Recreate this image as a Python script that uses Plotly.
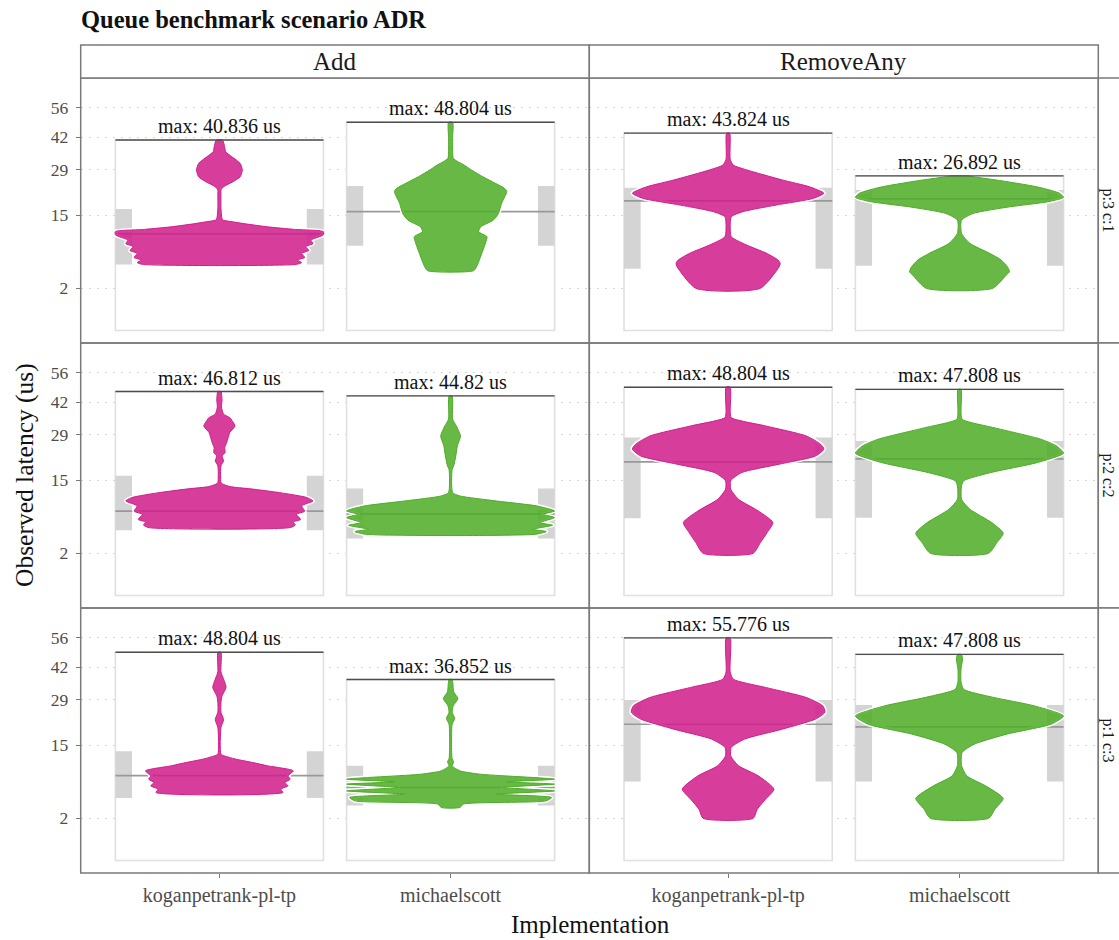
import numpy as np
import plotly.graph_objects as go

W, H = 1119, 940

operations = ["Add", "RemoveAny"]
configs = ["p:3 c:1", "p:2 c:2", "p:1 c:3"]
implementations = ["koganpetrank-pl-tp", "michaelscott"]
tick_us = [2, 15, 29, 42, 56]

# panel order: config row -> operation -> implementation
max_us = [40.836, 48.804, 43.824, 26.892,
          46.812, 44.82, 48.804, 47.808,
          48.804, 36.852, 55.776, 47.808]
q1_us = [4.9, 8.1, 4.3, 4.7, 4.8, 3.65, 6.7, 6.8, 4.4, 3.4, 7.0, 7.0]
median_us = [10.5, 15.9, 18.9, 19.5, 8.0, 7.5, 20.1, 21.0, 8.1, 6.0, 20.9, 20.1]
q3_us = [16.6, 23.5, 22.9, 22.2, 16.1, 12.9, 28.1, 26.9, 13.4, 10.1, 29.0, 27.2]

# violin outlines: latency (us) and relative half width (1 = full slot)
p3_add_kp_lat = [4.92, 5.2, 5.6, 6.0, 6.7, 7.2, 7.9, 8.5, 9.2, 9.8, 10.3, 11.0, 11.5, 12.1, 12.8,
                 13.4, 13.8, 17.0, 21.0, 22.2, 23.25, 24.9, 26.6, 29.0, 31.4, 33.97, 35.96, 38.0, 40.836]
p3_add_kp_w = [0.74, 0.79, 0.75, 0.82, 0.79, 0.86, 0.83, 0.90, 0.88, 0.95, 1.0, 1.0, 0.72, 0.46, 0.25,
               0.10, 0.03, 0.015, 0.015, 0.015, 0.04, 0.13, 0.20, 0.22, 0.20, 0.12, 0.06, 0.05, 0.03]

p3_add_ms_lat = [4.01, 4.57, 5.31, 6.69, 8.86, 9.9, 10.97, 12.1, 13.7, 15.4, 18.2, 20.1, 21.7, 22.7,
                 24.4, 26.6, 29.0, 30.8, 32.05, 33.4, 36.0, 42.0, 48.804]
p3_add_ms_w = [0.22, 0.25, 0.27, 0.30, 0.34, 0.35, 0.27, 0.29, 0.41, 0.46, 0.49, 0.52, 0.54, 0.52,
               0.43, 0.31, 0.20, 0.13, 0.07, 0.025, 0.02, 0.02, 0.02]

p3_rem_kp_lat = [2.0, 4.57, 5.07, 5.58, 6.7, 8.2, 9.9, 12.1, 14.55, 15.87, 17.7, 19.65, 21.2, 23.25,
                 25.5, 29.0, 30.8, 33.0, 43.824]
p3_rem_kp_w = [0.31, 0.49, 0.50, 0.48, 0.37, 0.18, 0.03, 0.02, 0.03, 0.14, 0.46, 0.82, 0.92, 0.78,
               0.52, 0.18, 0.05, 0.02, 0.015]

p3_rem_ms_lat = [2.0, 3.46, 3.88, 4.57, 5.6, 6.7, 8.54, 10.6, 13.7, 15.4, 17.2, 18.7, 19.95, 21.2,
                 23.25, 25.5, 26.6, 26.892]
p3_rem_ms_w = [0.32, 0.45, 0.48, 0.46, 0.40, 0.29, 0.10, 0.02, 0.02, 0.13, 0.48, 0.86, 1.0, 0.96,
               0.74, 0.35, 0.13, 0.10]

p2_add_kp_lat = [5.19, 5.6, 6.08, 6.5, 7.42, 8.0, 9.02, 10.05, 10.8, 11.9, 12.8, 13.35, 14.0, 14.4,
                 18.9, 20.4, 21.9, 23.0, 24.5, 26.3, 29.9, 32.35, 34.5, 35.6, 37.0, 40.0, 43.0, 46.812]
p2_add_kp_w = [0.68, 0.73, 0.71, 0.78, 0.74, 0.82, 0.79, 0.90, 0.84, 0.58, 0.30, 0.10, 0.03, 0.015,
               0.015, 0.04, 0.025, 0.055, 0.05, 0.07, 0.10, 0.15, 0.12, 0.10, 0.04, 0.02, 0.025, 0.015]

p2_add_ms_lat = [4.22, 4.6, 4.93, 5.55, 5.98, 6.83, 7.42, 8.04, 9.02, 10.05, 11.15, 11.9, 17.9, 18.9,
                 21.9, 25.2, 28.65, 32.35, 35.0, 44.82]
p2_add_ms_w = [0.82, 0.92, 0.79, 0.98, 0.86, 1.0, 0.89, 1.0, 0.83, 0.44, 0.09, 0.02, 0.015, 0.03,
               0.05, 0.065, 0.095, 0.055, 0.02, 0.015]

p2_rem_kp_lat = [2.0, 3.15, 4.46, 5.98, 8.04, 10.4, 12.7, 14.8, 17.0, 19.4, 21.9, 24.1, 25.7, 28.65,
                 32.35, 35.6, 38.0, 48.804]
p2_rem_kp_w = [0.24, 0.31, 0.375, 0.43, 0.29, 0.10, 0.025, 0.025, 0.13, 0.49, 0.84, 0.92, 0.89, 0.75,
               0.36, 0.03, 0.02, 0.02]

p2_rem_ms_lat = [2.0, 3.15, 4.36, 5.98, 8.37, 10.4, 13.5, 14.8, 17.0, 19.9, 22.8, 25.2, 27.5, 31.7,
                 34.96, 38.0, 47.808]
p2_rem_ms_w = [0.28, 0.36, 0.42, 0.31, 0.10, 0.02, 0.02, 0.04, 0.30, 0.75, 1.0, 0.93, 0.78, 0.33,
               0.025, 0.015, 0.015]

p1_add_kp_lat = [5.2, 5.72, 6.27, 6.85, 7.44, 8.06, 9.04, 10.1, 10.8, 11.6, 12.3, 12.7, 19.9, 22.3,
                 24.7, 28.1, 30.5, 33.7, 37.0, 40.0, 48.804]
p1_add_kp_w = [0.61, 0.59, 0.66, 0.63, 0.68, 0.66, 0.71, 0.46, 0.32, 0.15, 0.05, 0.015, 0.015, 0.04,
               0.015, 0.015, 0.025, 0.064, 0.04, 0.015, 0.015]

p1_add_ms_lat = [3.16, 3.57, 4.0, 4.47, 4.95, 5.45, 6.0, 6.56, 6.96, 7.44, 8.39, 9.04, 10.1, 10.95,
                 11.6, 20.9, 22.7, 24.7, 26.9, 29.5, 32.0, 36.852]
p1_add_ms_w = [0.09, 0.12, 0.92, 0.97, 0.44, 1.0, 0.50, 1.0, 0.54, 1.0, 0.28, 0.09, 0.015, 0.03,
               0.015, 0.015, 0.04, 0.015, 0.025, 0.07, 0.03, 0.015]

p1_rem_kp_lat = [2.0, 2.96, 4.23, 5.72, 8.06, 10.1, 12.3, 14.4, 16.6, 19.4, 22.5, 24.7, 26.9, 29.9,
                 33.7, 37.0, 40.0, 55.776]
p1_rem_kp_w = [0.24, 0.28, 0.36, 0.44, 0.29, 0.10, 0.025, 0.03, 0.16, 0.52, 0.84, 0.93, 0.91, 0.75,
               0.36, 0.05, 0.02, 0.02]

p1_rem_ms_lat = [2.0, 2.96, 4.33, 6.27, 8.06, 10.1, 13.1, 15.2, 18.0, 20.9, 23.5, 26.9, 29.9, 33.0,
                 36.0, 41.2, 44.0, 45.6, 47.0, 47.808]
p1_rem_ms_w = [0.28, 0.34, 0.42, 0.25, 0.07, 0.02, 0.025, 0.14, 0.46, 0.88, 1.0, 0.72, 0.33, 0.04,
               0.015, 0.015, 0.025, 0.03, 0.025, 0.02]

profiles = [
    (p3_add_kp_lat, p3_add_kp_w), (p3_add_ms_lat, p3_add_ms_w),
    (p3_rem_kp_lat, p3_rem_kp_w), (p3_rem_ms_lat, p3_rem_ms_w),
    (p2_add_kp_lat, p2_add_kp_w), (p2_add_ms_lat, p2_add_ms_w),
    (p2_rem_kp_lat, p2_rem_kp_w), (p2_rem_ms_lat, p2_rem_ms_w),
    (p1_add_kp_lat, p1_add_kp_w), (p1_add_ms_lat, p1_add_ms_w),
    (p1_rem_kp_lat, p1_rem_kp_w), (p1_rem_ms_lat, p1_rem_ms_w),
]

fill_col = {"koganpetrank-pl-tp": "rgba(208,28,139,0.85)", "michaelscott": "rgba(77,172,38,0.85)"}
line_col = {"koganpetrank-pl-tp": "#D01C8B", "michaelscott": "#4DAC26"}

FONT = "Liberation Serif"
BORDER = "#7a7a7a"
col_px = [(80.7, 589.3), (589.3, 1098.3)]
row_px = [(78, 343), (343, 608), (608, 873)]
HALF = 0.45      # half width of each violin slot
BAR = 0.072      # width of the IQR bars

fig = go.Figure()
shapes = []
annotations = []
layout = {}

for r, cfg in enumerate(configs):
    for c, op in enumerate(operations):
        p = r * 2 + c
        ax = "" if p == 0 else str(p + 1)
        xr, yr = "x" + ax, "y" + ax
        layout["xaxis" + ax] = dict(
            domain=[col_px[c][0] / W, col_px[c][1] / W], anchor=yr,
            range=[-0.6, 1.6], tickvals=[0, 1], ticktext=implementations,
            showticklabels=(r == 2), ticks="outside" if r == 2 else "",
            ticklen=4, tickcolor=BORDER, showgrid=False, zeroline=False, showline=False,
            tickfont=dict(family=FONT, size=20, color="#4d4d4d"),
        )
        layout["yaxis" + ax] = dict(
            domain=[1 - row_px[r][1] / H, 1 - row_px[r][0] / H], anchor=xr,
            range=[-0.42, 8.47], tickvals=list(np.sqrt(tick_us)),
            ticktext=[str(t) for t in tick_us],
            showticklabels=(c == 0), ticks="outside" if c == 0 else "",
            ticklen=4, tickcolor=BORDER, ticklabelstandoff=4,
            showgrid=True, gridcolor="#d4d4d4", gridwidth=1, griddash="2px,6px",
            zeroline=False, showline=False,
            tickfont=dict(family=FONT, size=17.5, color="#4d4d4d"),
        )
        # panel border
        shapes.append(dict(type="rect", xref=xr + " domain", yref=yr + " domain",
                           x0=0, x1=1, y0=0, y1=1, line=dict(color=BORDER, width=1.5),
                           layer="above"))

        for i, impl in enumerate(implementations):
            k = p * 2 + i
            top = np.sqrt(max_us[k])
            # slot frame
            shapes.append(dict(type="rect", xref=xr, yref=yr, x0=i - HALF, x1=i + HALF,
                               y0=0, y1=top, fillcolor="white",
                               line=dict(color="#e0e0e0", width=1.6), layer="between"))
            # IQR bars on both sides
            for x0 in (i - HALF, i + HALF - BAR):
                shapes.append(dict(type="rect", xref=xr, yref=yr, x0=x0, x1=x0 + BAR,
                                   y0=np.sqrt(q1_us[k]), y1=np.sqrt(q3_us[k]),
                                   fillcolor="#d4d4d4", line=dict(width=0), layer="between"))
            shapes.append(dict(type="line", xref=xr, yref=yr, x0=i - HALF, x1=i + HALF,
                               y0=np.sqrt(median_us[k]), y1=np.sqrt(median_us[k]),
                               line=dict(color="#999999", width=1.6), layer="between"))

            lat, w = profiles[k]
            ys = np.sqrt(np.array(lat))
            half = HALF * np.array(w)
            xs = np.concatenate([i + half, (i - half)[::-1], [i + half[0]]])
            yy = np.concatenate([ys, ys[::-1], [ys[0]]])
            fig.add_trace(go.Scatter(x=xs, y=yy, xaxis=xr, yaxis=yr, mode="lines",
                                     line=dict(color="white", width=4, shape="spline", smoothing=0.6),
                                     hoverinfo="skip", showlegend=False))
            fig.add_trace(go.Scatter(x=xs, y=yy, xaxis=xr, yaxis=yr, mode="lines",
                                     fill="toself", fillcolor=fill_col[impl],
                                     line=dict(color=line_col[impl], width=1, shape="spline", smoothing=0.6),
                                     hoverinfo="skip", showlegend=False))

            shapes.append(dict(type="line", xref=xr, yref=yr, x0=i - HALF, x1=i + HALF,
                               y0=top, y1=top, line=dict(color="#4d4d4d", width=1.4), layer="above"))
            annotations.append(dict(xref=xr, yref=yr, x=i, y=top, yanchor="bottom", yshift=1,
                                    text=f"max: {max_us[k]:g} us", showarrow=False,
                                    font=dict(family=FONT, size=20, color="#111111")))

# strips
for c, op in enumerate(operations):
    ax = "" if c == 0 else str(c + 1)
    shapes.append(dict(type="rect", xref="x" + ax + " domain", yref="paper",
                       x0=0, x1=1, y0=1 - 78 / H, y1=1 - 45 / H,
                       fillcolor="white", line=dict(color=BORDER, width=1.5)))
    annotations.append(dict(xref="x" + ax + " domain", yref="paper", x=0.5, y=1 - 61.5 / H,
                            text=op, showarrow=False, xanchor="center", yanchor="middle",
                            font=dict(family=FONT, size=25, color="#1a1a1a")))
for r, cfg in enumerate(configs):
    ax = str(r * 2 + 2)
    shapes.append(dict(type="rect", xref="paper", yref="y" + ax + " domain",
                       x0=1098.3 / W, x1=1132 / W, y0=0, y1=1,
                       fillcolor="white", line=dict(color=BORDER, width=1.5)))
    annotations.append(dict(xref="paper", yref="y" + ax + " domain", x=1108 / W, y=0.5,
                            text=cfg, showarrow=False, textangle=90,
                            xanchor="center", yanchor="middle", borderpad=0,
                            font=dict(family=FONT, size=16, color="#1a1a1a")))

annotations.append(dict(xref="paper", yref="paper", x=79 / W, y=1 - 19 / H, xanchor="left",
                        yanchor="middle", text="<b>Queue benchmark scenario ADR</b>",
                        showarrow=False, font=dict(family=FONT, size=24.5, color="#111111")))
annotations.append(dict(xref="paper", yref="paper", x=24 / W, y=1 - 475 / H,
                        xanchor="center", yanchor="middle",
                        text="Observed latency (us)", textangle=-90, showarrow=False,
                        font=dict(family=FONT, size=25.5, color="#111111")))
annotations.append(dict(xref="paper", yref="paper", x=590 / W, y=1 - 939 / H,
                        xanchor="center", yanchor="bottom", borderpad=0,
                        text="Implementation", showarrow=False,
                        font=dict(family=FONT, size=25, color="#111111")))

fig.update_layout(
    width=W, height=H, margin=dict(l=0, r=0, t=0, b=0),
    paper_bgcolor="white", plot_bgcolor="white", showlegend=False,
    shapes=shapes, annotations=annotations, **layout,
)

fig.write_html("out.html", config={"displayModeBar": False},
               post_script="document.body.style.margin = '0px';")
